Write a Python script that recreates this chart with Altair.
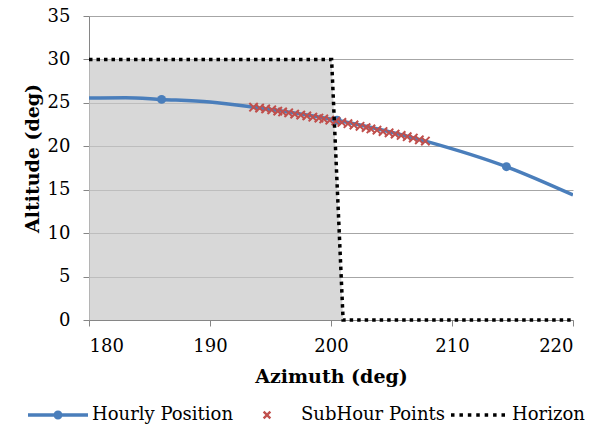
import altair as alt
import pandas as pd

# ---- data ----
curve_az = [180.0, 183.0, 186.0, 190.0, 193.6, 200.5, 207.8, 214.5, 220.0]
curve_alt = [25.55, 25.6, 25.4, 25.1, 24.5, 23.0, 20.6, 17.65, 14.4]

hour_az = [186.0, 200.5, 214.5]
hour_alt = [25.4, 23.0, 17.65]

sub_az = [193.6, 194.1, 194.6, 195.1, 195.6, 196.0, 196.5, 197.0, 197.5, 198.0,
          198.5, 199.0, 199.4, 199.9, 200.4, 200.9, 201.4, 201.9, 202.4, 202.9,
          203.3, 203.8, 204.3, 204.8, 205.3, 205.8, 206.3, 206.8, 207.3, 207.8]
sub_alt = [24.5, 24.4, 24.3, 24.2, 24.05, 23.95, 23.85, 23.7, 23.6, 23.5,
           23.35, 23.25, 23.15, 23.0, 22.9, 22.75, 22.6, 22.45, 22.3, 22.15,
           22.0, 21.85, 21.7, 21.55, 21.4, 21.25, 21.1, 20.95, 20.75, 20.6]

hor_az = [180.0, 200.05, 201.0, 220.0]
hor_alt = [30.0, 30.0, 0.0, 0.0]

series = ["Hourly Position", "SubHour Points", "Horizon"]
x_ticks = [180, 190, 200, 210, 220]
y_ticks = [0, 5, 10, 15, 20, 25, 30, 35]

BLUE = "#4a7ebb"
RED = "#c0504d"
FONT = "DejaVu Serif"

curve_df = pd.DataFrame({"az": curve_az, "alt": curve_alt})
hour_df = pd.DataFrame({"az": hour_az, "alt": hour_alt})
sub_df = pd.DataFrame({"az": sub_az, "alt": sub_alt})
hor_df = pd.DataFrame({"az": hor_az, "alt": hor_alt})
leg_df = pd.DataFrame({"series": series, "az": [curve_az[0], sub_az[0], hor_az[0]],
                       "alt": [curve_alt[0], sub_alt[0], hor_alt[0]]})

xs = alt.Scale(domain=[180, 220], nice=False, zero=False)
ys = alt.Scale(domain=[0, 35], nice=False)

X = alt.X("az:Q", scale=xs, title="Azimuth (deg)",
          axis=alt.Axis(values=x_ticks, grid=False, tickSize=6, labelPadding=11,
                        titlePadding=12))
Y = alt.Y("alt:Q", scale=ys, title="Altitude (deg)",
          axis=alt.Axis(values=y_ticks, grid=True, tickSize=6, labelPadding=13,
                        titleX=-57, titleY=142, titleAngle=270,
                        titleBaseline="middle", titleAlign="center"))

area = alt.Chart(hor_df).mark_area(color="#c8c8c8", opacity=0.7).encode(x=X, y=Y)

line = alt.Chart(curve_df).mark_line(color=BLUE, strokeWidth=3.5,
                                     interpolate="monotone", clip=True).encode(x=X, y=Y)
dots = alt.Chart(hour_df).mark_circle(color=BLUE, size=80, opacity=1).encode(x=X, y=Y)

XPATH = "M-1,-1L1,1M-1,1L1,-1"
subs = alt.Chart(sub_df).mark_point(shape=XPATH, color=RED, strokeWidth=2,
                                    size=70, opacity=1).encode(x=X, y=Y)

hor = alt.Chart(hor_df).mark_line(color="black", strokeWidth=3.5, strokeDash=[3.5, 4],
                                  strokeCap="butt").encode(x=X, y=Y)

# legend symbols (unit = 30 px)
p_hourly = ("M-1,-0.058L1,-0.058L1,0.058L-1,0.058Z "
            "M-0.15,0A0.15,0.15 0 1,1 0.15,0A0.15,0.15 0 1,1 -0.15,0Z")
a, e = 0.14, 0.055
p_cross = (f"M0,{-e}L{a-e},{-a}L{a},{-a+e}L{e},0L{a},{a-e}L{a-e},{a}L0,{e}"
           f"L{-a+e},{a}L{-a},{a-e}L{-e},0L{-a},{-a+e}L{-a+e},{-a}Z")
sq = 0.117
period = (1.8 - sq) / 6
p_dots = " ".join(
    f"M{-0.9 + i*period:.3f},{-sq/2:.3f}h{sq}v{sq}h{-sq}Z" for i in range(7))

leg = alt.Legend(orient="none", legendX=-61, legendY=369, direction="horizontal",
                 title=None, symbolSize=3600, symbolStrokeWidth=0, symbolOpacity=1,
                 labelFont=FONT, labelFontSize=18, labelColor="black",
                 labelOffset=4, columnPadding=3, padding=0)

legend_layer = alt.Chart(leg_df).mark_point(filled=True, opacity=0).encode(
    x=X, y=Y,
    color=alt.Color("series:N", scale=alt.Scale(domain=series, range=[BLUE, RED, "black"]),
                    legend=leg),
    shape=alt.Shape("series:N", scale=alt.Scale(domain=series,
                                                range=[p_hourly, p_cross, p_dots]),
                    legend=leg),
)

chart = alt.layer(area, line, dots, subs, hor, legend_layer).properties(
    width=484, height=304,
    autosize=alt.AutoSizeParams(type="none"),
    padding={"left": 81, "top": 8, "right": 19, "bottom": 107},
).configure(font=FONT).configure_view(stroke=None).configure_axis(
    labelFont=FONT, labelFontSize=18, labelColor="black",
    titleFont=FONT, titleFontSize=19, titleFontWeight="bold", titleColor="black",
    domainColor="#868686", tickColor="#868686", gridColor="#a6a6a6",
    domainWidth=1, tickWidth=1, gridWidth=1,
).configure_legend(labelFont=FONT)

chart.save("out.html", embed_options={"renderer": "svg", "actions": False})
